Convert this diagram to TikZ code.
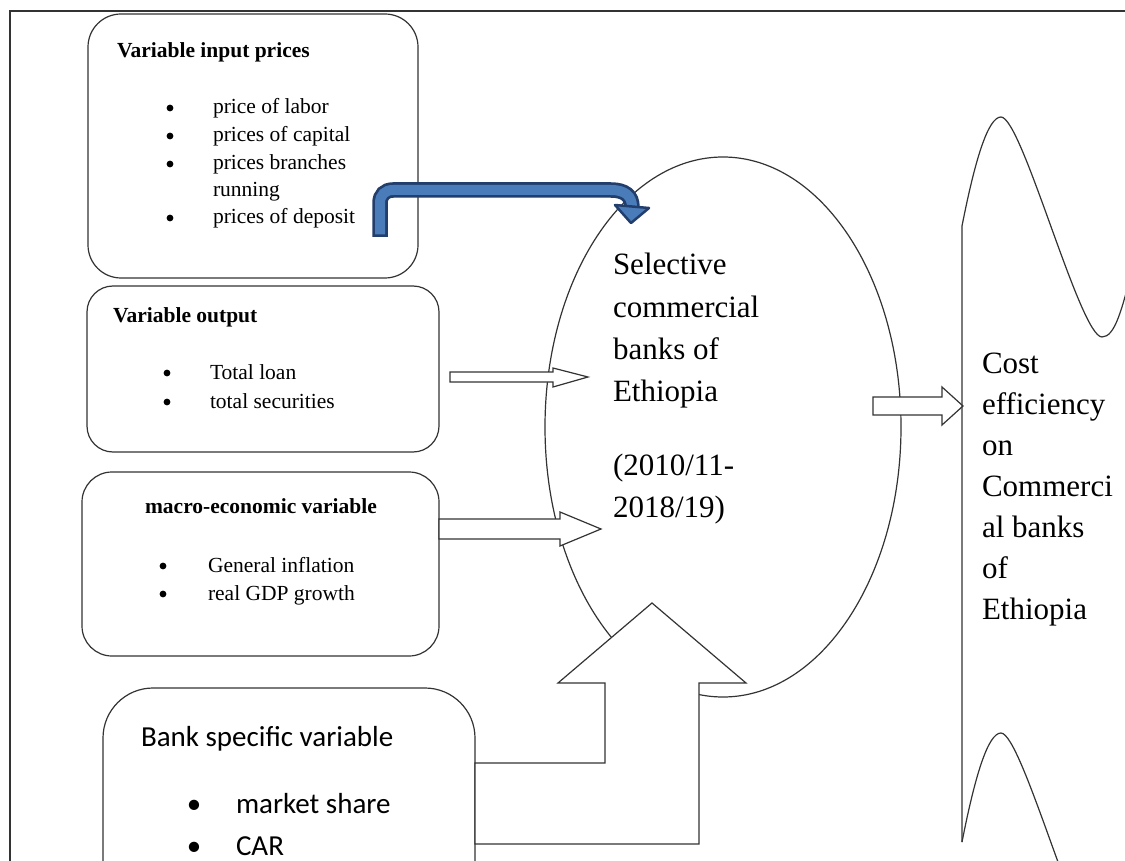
\documentclass[tikz,border=0pt]{standalone}
\usepackage{fontspec}
\setmainfont{Liberation Serif}
\newfontfamily\calibri{Carlito}
\usetikzlibrary{shapes.geometric}
\definecolor{bluefill}{RGB}{74,124,186}
\definecolor{bluedark}{RGB}{34,62,108}
\begin{document}
\begin{tikzpicture}[x=1pt,y=-1pt,
  every node/.style={inner sep=0pt, outer sep=0pt},
  ln/.style={draw=black!80, line width=1.2pt},
  rbox/.style={ln, rectangle, rounded corners=#1, anchor=north west},
  ttl/.style={font=\bfseries\fontsize{21.5}{26}\selectfont, anchor=base west},
  itm/.style={font=\fontsize{21.5}{26}\selectfont, anchor=base west},
  bul/.style={circle, fill=black, minimum size=6.8pt},
  big/.style={font=\fontsize{31}{40}\selectfont, anchor=base west},
  cal/.style={font=\calibri\fontsize{29}{34}\selectfont, anchor=base west},
  calbul/.style={font=\calibri\fontsize{29}{34}\selectfont, anchor=base},
  blockarrow/.style={ln, fill=white, line join=miter},
]
\useasboundingbox (0,0) rectangle (1125,861);
\begin{scope}
\clip (0,0) rectangle (1125,861);
% frame
\draw[ln] (1130,11) -- (10,11) -- (10,870);
% boxes
\node[rbox=33pt, minimum width=330pt, minimum height=264pt] (inputs) at (88,14) {};
\node[rbox=26pt, minimum width=352pt, minimum height=166pt] (outputs) at (87,286) {};
\node[rbox=30pt, minimum width=357pt, minimum height=184pt] (macro) at (82,472) {};
\node[rbox=50pt, minimum width=372pt, minimum height=260pt] (bank) at (103,688) {};
% ellipse
\node[ln, ellipse, minimum width=356pt, minimum height=540pt] (banks) at (723,427) {};
% block arrows
\draw[blockarrow] (450,372) -- (553,372) -- (553,368) -- (588,377) -- (553,387) -- (553,382) -- (450,382) -- cycle;
\draw[blockarrow] (439,519) -- (560,519) -- (560,512) -- (601,529) -- (560,546) -- (560,539) -- (439,539) -- cycle;
\draw[blockarrow] (873,397) -- (942,397) -- (942,387) -- (963,406) -- (942,425) -- (942,415) -- (873,415) -- cycle;
\draw[blockarrow] (475,763) -- (605,763) -- (605,683) -- (558,683) -- (652,603) -- (746,683) -- (699,683) -- (699,844) -- (475,844) -- cycle;
% wave shape
\draw[ln] (962,842) -- (962,226) .. controls (975,160) and (988,117) .. (1001,117) .. controls (1022,117) and (1080,337) .. (1102,337) .. controls (1115,337) and (1122,310) .. (1134,262);
\draw[ln, shift={(0,616)}] (962,226) .. controls (975,160) and (988,117) .. (1001,117) .. controls (1022,117) and (1080,337) .. (1102,337);
% blue bent arrow
\draw[bluedark, line width=15.5pt] (380,237) -- (380,203) .. controls (380,195) and (385,190) .. (393,190) -- (611,190) .. controls (625,190) and (632,196) .. (632,207);
\draw[bluefill, line width=10pt] (380,234.5) -- (380,203) .. controls (380,195) and (385,190) .. (393,190) -- (611,190) .. controls (625,190) and (632,196) .. (632,207);
\draw[fill=bluefill, draw=bluedark, line width=2.5pt, line join=round] (615,205) -- (649,208) -- (631,223) -- cycle;
\end{scope}
% box 1 text
\node[ttl] (t1) at (117,58) {Variable input prices};
\node[bul] (b11) at (170,108) {}; \node[itm] (i11) at (213,114) {price of labor};
\node[bul] (b12) at (170,136) {}; \node[itm] (i12) at (213,142) {prices of capital};
\node[bul] (b13) at (170,164) {}; \node[itm] (i13) at (213,170) {prices branches};
\node[itm] (i14) at (213,197) {running};
\node[bul] (b15) at (170,218) {}; \node[itm] (i15) at (213,224) {prices of deposit};
% box 2 text
\node[ttl] (t2) at (113,322) {Variable output};
\node[bul] (b21) at (167,373) {}; \node[itm] (i21) at (210,379) {Total loan};
\node[bul] (b22) at (167,402) {}; \node[itm] (i22) at (210,408) {total securities};
% box 3 text
\node[ttl, anchor=base] (t3) at (261,513) {macro-economic variable};
\node[bul] (b31) at (163,566) {}; \node[itm] (i31) at (208,572) {General inflation};
\node[bul] (b32) at (163,594) {}; \node[itm] (i32) at (208,600) {real GDP growth};
% box 4 text
\node[cal] (t4) at (141,746) {Bank specific variable};
\node[calbul] (b41) at (194,813) {•}; \node[cal] (i41) at (236,813) {market share};
\node[calbul] (b42) at (194,855) {•}; \node[cal] (i42) at (236,855) {CAR};
% ellipse text
\node[big] (e1) at (613,275) {Selective};
\node[big] (e2) at (613,317) {commercial};
\node[big] (e3) at (613,359) {banks of};
\node[big] (e4) at (613,401) {Ethiopia};
\node[big] (e5) at (613,475) {(2010/11-};
\node[big] (e6) at (613,517) {2018/19)};
% result text
\node[big] (c1) at (982,373) {Cost};
\node[big] (c2) at (982,414) {efficiency};
\node[big] (c3) at (982,455) {on};
\node[big] (c4) at (982,496) {Commerci};
\node[big] (c5) at (982,537) {al banks};
\node[big] (c6) at (982,578) {of};
\node[big] (c7) at (982,619) {Ethiopia};
\end{tikzpicture}
\end{document}
